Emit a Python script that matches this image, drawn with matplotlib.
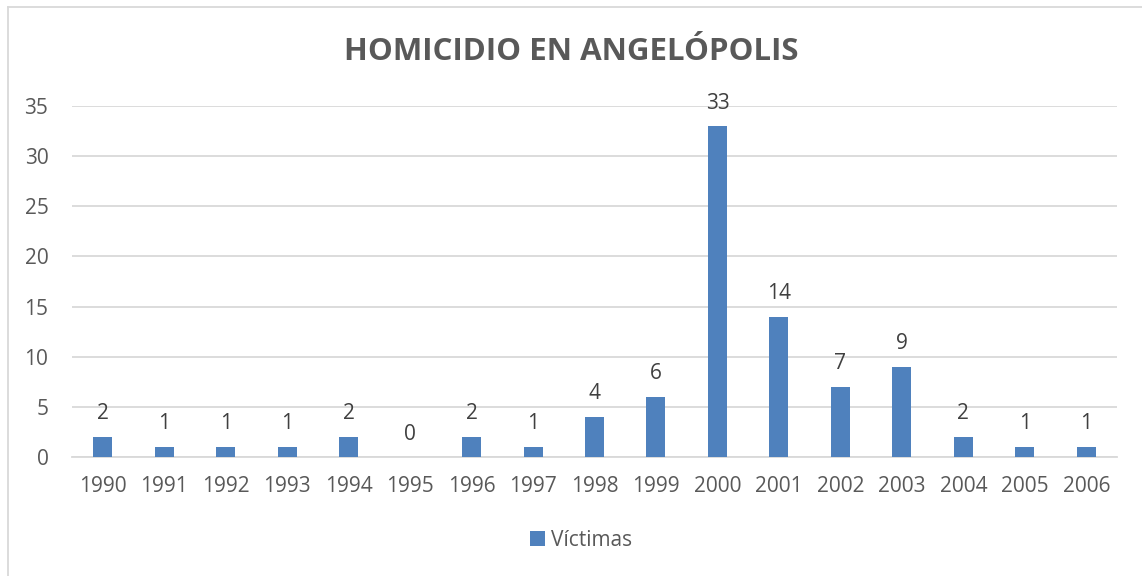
import matplotlib
matplotlib.use("Agg")
import matplotlib.pyplot as plt
from matplotlib.lines import Line2D
from matplotlib.patches import Patch

years = ["1990", "1991", "1992", "1993", "1994", "1995", "1996", "1997", "1998",
         "1999", "2000", "2001", "2002", "2003", "2004", "2005", "2006"]
victimas = [2, 1, 1, 1, 2, 0, 2, 1, 4, 6, 33, 14, 7, 9, 2, 1, 1]
yticks = [0, 5, 10, 15, 20, 25, 30, 35]
title = "HOMICIDIO EN ANGELÓPOLIS"
series_name = "Víctimas"

plt.rcParams['font.family'] = ['Open Sans', 'DejaVu Sans']

W, H = 1142, 576
fig = plt.figure(figsize=(W / 100, H / 100), dpi=100)
ax = fig.add_axes([72 / W, 1 - 457 / H, (1117 - 72) / W, (457 - 106) / H])

x = list(range(len(years)))
bar_color = "#4f81bd"
ax.bar(x, victimas, width=0.31, color=bar_color, zorder=3)

fs = 15
for xi, v in zip(x, victimas):
    ax.annotate(str(v), (xi, v), xytext=(0, 9), textcoords="offset points",
                ha="center", va="bottom", fontsize=fs, color="#404040")

ax.set_xlim(-0.5, len(years) - 0.5)
ax.set_ylim(0, 35)
ax.set_yticks(yticks)
ax.set_xticks(x)
ax.set_xticklabels(years)
ax.tick_params(axis="both", length=0, labelsize=fs, labelcolor="#595959")
ax.tick_params(axis="x", pad=14)
ax.tick_params(axis="y", pad=17)
ax.grid(axis="y", color="#d9d9d9", linewidth=1.3, zorder=0)
for s in ["top", "right", "left"]:
    ax.spines[s].set_visible(False)
ax.spines["bottom"].set_color("#d9d9d9")
ax.spines["bottom"].set_linewidth(1.3)

fig.text(0.5, 1 - 52 / H, title, ha="center", va="center",
         fontsize=22.5, fontweight="bold", color="#595959")

handles = [Patch(facecolor=bar_color, edgecolor="none", label=series_name)]
fig.legend(handles=handles, loc="center", bbox_to_anchor=(581 / W, 1 - 540 / H),
           frameon=False, fontsize=fs, labelcolor="#595959",
           handlelength=0.7, handleheight=0.7, handletextpad=0.3)

# chart border (left and top visible)
fig.add_artist(Line2D([8 / W, 8 / W], [0, 1 - 7 / H], transform=fig.transFigure,
                      color="#d9d9d9", linewidth=1.3))
fig.add_artist(Line2D([8 / W, 1], [1 - 7 / H, 1 - 7 / H], transform=fig.transFigure,
                      color="#d9d9d9", linewidth=1.3))

fig.savefig("out.png", dpi=100)
